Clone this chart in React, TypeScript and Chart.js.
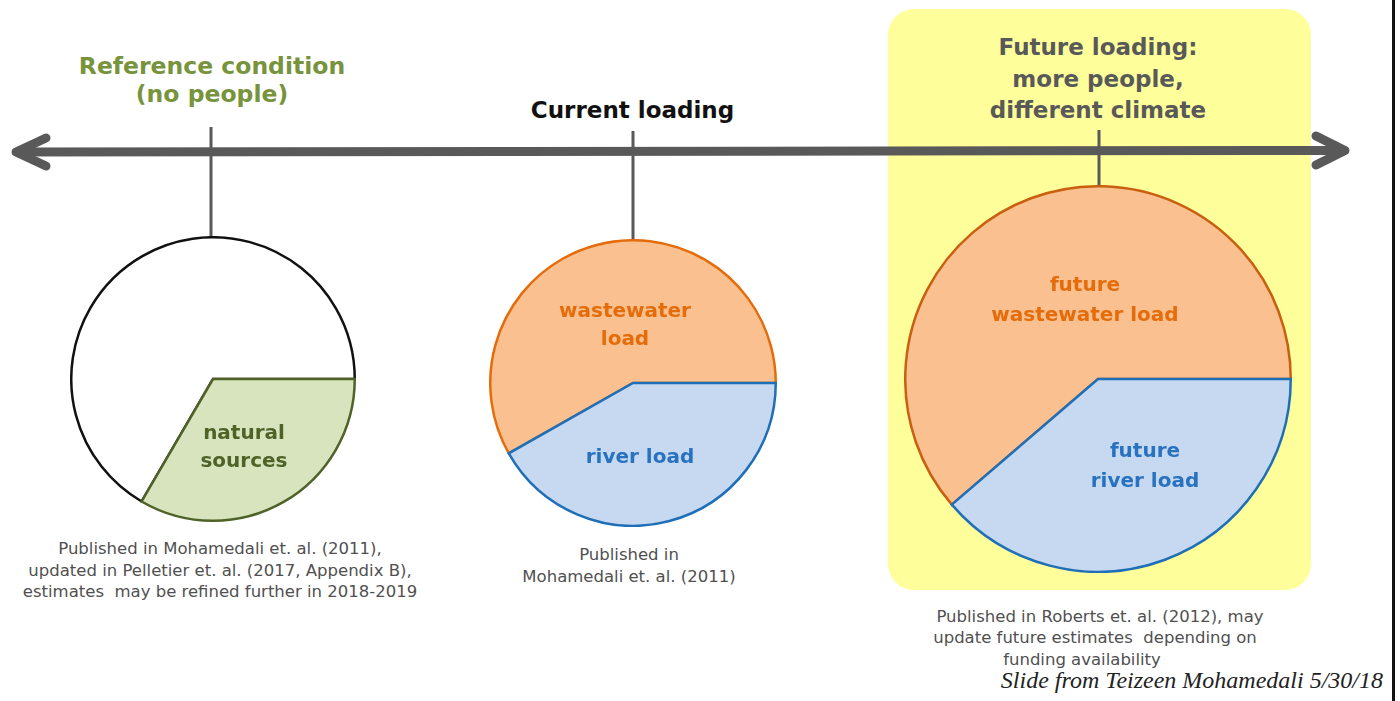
import React, { useEffect, useRef } from 'react';
import { Chart, registerables } from 'chart.js';

Chart.register(...registerables);

// Load shares (percent of each circle), in drawing order.
const referenceCategories = ['remaining', 'natural sources'];
const referenceShares = [66.6, 33.4];

const currentCategories = ['wastewater load', 'river load'];
const currentShares = [58.2, 41.8];

const futureCategories = ['future wastewater load', 'future river load'];
const futureShares = [61.3, 38.7];

// Text blocks.
const referenceTitle = ['Reference condition', '(no people)'];
const currentTitle = ['Current loading'];
const futureTitle = ['Future loading:', 'more people,', 'different climate'];

const referenceNote = [
  'Published in Mohamedali et. al. (2011),',
  'updated in Pelletier et. al. (2017, Appendix B),',
  'estimates  may be refined further in 2018-2019',
];
const currentNote = ['Published in', 'Mohamedali et. al. (2011)'];
const futureNote = [
  'Published in Roberts et. al. (2012), may',
  'update future estimates  depending on',
  'funding availability',
];
const creditLine = 'Slide from Teizeen Mohamedali 5/30/18';

const SANS = '"DejaVu Sans", Verdana, sans-serif';
const GREY = '#595959';

type PieProps = {
  labels: string[];
  values: number[];
  fills: string[];
  strokes: string[];
  cx: number;
  cy: number;
  diameter: number;
  strokeWidth: number;
};

function LoadPie({ labels, values, fills, strokes, cx, cy, diameter, strokeWidth }: PieProps) {
  const ref = useRef<HTMLCanvasElement>(null);
  const size = Math.round(diameter + strokeWidth);

  useEffect(() => {
    const total = values.reduce((a, b) => a + b, 0);
    const lastShare = values[values.length - 1] / total;
    const chart = new Chart(ref.current as HTMLCanvasElement, {
      type: 'pie',
      data: {
        labels,
        datasets: [
          {
            data: values,
            backgroundColor: fills,
            borderColor: strokes,
            borderWidth: strokeWidth,
            hoverOffset: 0,
            offset: 0,
            borderJoinStyle: 'miter',
          } as any,
        ],
      },
      options: {
        responsive: false,
        animation: false,
        events: [],
        // the last slice ends at three o'clock
        rotation: 90 + 360 * lastShare,
        layout: { padding: 0 },
        plugins: { legend: { display: false }, tooltip: { enabled: false } },
      },
    });
    return () => chart.destroy();
  }, []);

  return (
    <canvas
      ref={ref}
      width={size}
      height={size}
      style={{
        position: 'absolute',
        left: Math.round(cx - size / 2),
        top: Math.round(cy - size / 2),
        width: size,
        height: size,
      }}
    />
  );
}

function Lines({ lines, x, y, step, size, color, weight, anchor = 'middle', xs }: any) {
  return (
    <>
      {lines.map((t: string, i: number) => (
        <text
          key={i}
          x={xs ? xs[i] : x}
          y={y + i * step}
          textAnchor={anchor}
          fontFamily={SANS}
          fontSize={size}
          fontWeight={weight}
          fill={color}
          style={{ whiteSpace: 'pre' }}
        >
          {t}
        </text>
      ))}
    </>
  );
}

export default function App() {
  return (
    <div
      style={{
        position: 'fixed',
        left: 0,
        top: 0,
        width: 1400,
        height: 701,
        background: '#ffffff',
        overflow: 'hidden',
      }}
    >
      {/* background: highlight box, timeline, captions */}
      <svg width={1400} height={701} style={{ position: 'absolute', left: 0, top: 0 }}>
        <rect x={888} y={9} width={423} height={581} rx={26} ry={26} fill="#feff9a" />

        <line x1={16} y1={152} x2={1344} y2={150.5} stroke={GREY} strokeWidth={9} />
        <polyline
          points="46,138 16,152 46,166"
          fill="none"
          stroke={GREY}
          strokeWidth={9}
          strokeLinecap="round"
          strokeLinejoin="round"
        />
        <polyline
          points="1316,136 1345,150.5 1316,165"
          fill="none"
          stroke={GREY}
          strokeWidth={9}
          strokeLinecap="round"
          strokeLinejoin="round"
        />

        <line x1={211} y1={127} x2={211} y2={240} stroke={GREY} strokeWidth={3} />
        <line x1={633} y1={131} x2={633} y2={244} stroke={GREY} strokeWidth={3} />
        <line x1={1099} y1={130} x2={1099} y2={192} stroke={GREY} strokeWidth={3} />

        <Lines lines={referenceTitle} x={212} y={74} step={28} size={23.5} color="#77933c" weight="bold" />
        <Lines lines={currentTitle} x={632.5} y={118} step={28} size={23} color="#111111" weight="bold" />
        <Lines lines={futureTitle} x={1098} y={55} step={31.5} size={23} color={GREY} weight="bold" />

        <Lines lines={referenceNote} x={220} y={554} step={21.5} size={16.5} color="#505050" weight="normal" />
        <Lines lines={currentNote} x={629} y={560} step={22} size={16.5} color="#505050" weight="normal" />
        <Lines
          lines={futureNote}
          xs={[1100, 1095, 1082]}
          y={622}
          step={21.3}
          size={16.5}
          color="#505050"
          weight="normal"
        />

        <text
          x={1383}
          y={688}
          textAnchor="end"
          fontFamily='"Liberation Serif", "DejaVu Serif", serif'
          fontStyle="italic"
          fontSize={24}
          fill="#222222"
        >
          {creditLine}
        </text>
      </svg>

      <LoadPie
        labels={referenceCategories}
        values={referenceShares}
        fills={['#ffffff', '#d7e4bd']}
        strokes={['#111111', '#4f6228']}
        cx={212.5}
        cy={378.5}
        diameter={283}
        strokeWidth={2.5}
      />
      <LoadPie
        labels={currentCategories}
        values={currentShares}
        fills={['#fac090', '#c6d9f1']}
        strokes={['#e46c0a', '#1f6fb8']}
        cx={632.5}
        cy={382.5}
        diameter={285}
        strokeWidth={2.5}
      />
      <LoadPie
        labels={futureCategories}
        values={futureShares}
        fills={['#fac090', '#c6d9f1']}
        strokes={['#c8600f', '#1f6fb8']}
        cx={1097.5}
        cy={379}
        diameter={385}
        strokeWidth={2.5}
      />

      {/* slice labels */}
      <svg
        width={1400}
        height={701}
        style={{ position: 'absolute', left: 0, top: 0, pointerEvents: 'none' }}
      >
        <Lines lines={['natural', 'sources']} x={244} y={439} step={28} size={20} color="#4f6228" weight="bold" />
        <Lines lines={['wastewater', 'load']} x={625} y={317} step={28} size={20} color="#e46c0a" weight="bold" />
        <Lines lines={['river load']} x={640} y={463} step={28} size={20} color="#2872c0" weight="bold" />
        <Lines lines={['future', 'wastewater load']} x={1085} y={291} step={30} size={20} color="#e46c0a" weight="bold" />
        <Lines lines={['future', 'river load']} x={1145} y={457} step={30} size={20} color="#2872c0" weight="bold" />
      </svg>

      {/* right frame edge */}
      <div style={{ position: 'absolute', left: 1392, top: 0, width: 3, height: 701, background: '#111111' }} />
    </div>
  );
}
